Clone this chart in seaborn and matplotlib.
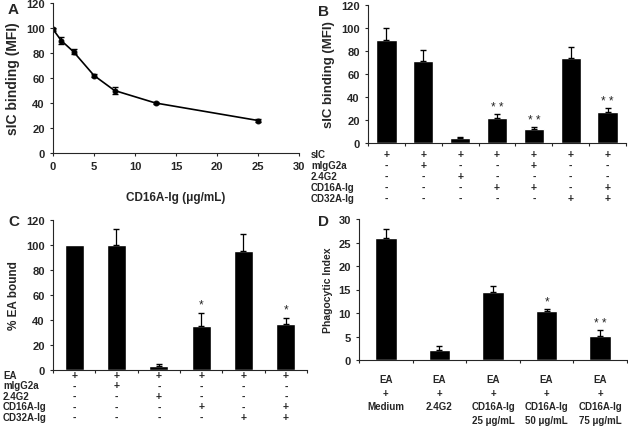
import numpy as np
import pandas as pd
import matplotlib
matplotlib.use("Agg")
import matplotlib.pyplot as plt
import matplotlib.transforms as mtransforms
import seaborn as sns

# Panel A: dose response
dose = [0, 1, 2.5, 5, 7.5, 12.5, 25]
a_mfi = [99, 90, 81, 62, 50, 40, 26]
a_err = [1, 2.5, 2, 1, 2.5, 1, 1]

# Panel B: sIC binding
b_mfi = [90, 71, 4, 22, 12.5, 74, 27]
b_err = [10, 10, 1, 3.5, 1, 9.5, 3.5]
b_stars = ["", "", "", "* *", "* *", "", "* *"]
b_rows = ["sIC", "mIgG2a", "2.4G2", "CD16A-Ig", "CD32A-Ig"]
b_table = [
    "+++++++",
    "-+--+--",
    "--+----",
    "---++-+",
    "-----++",
]

# Panel C: % EA bound
c_pct = [100, 100, 3, 35, 95, 37]
c_err = [0, 13, 1.5, 11, 14, 5]
c_stars = ["", "", "", "*", "", "*"]
c_rows = ["EA", "mIgG2a", "2.4G2", "CD16A-Ig", "CD32A-Ig"]
c_table = [
    "++++++",
    "-+----",
    "--+---",
    "---+-+",
    "----++",
]

# Panel D: phagocytic index
d_labels = ["EA\n+\nMedium", "EA\n+\n2.4G2", "EA\n+\nCD16A-Ig\n25 \u03bcg/mL",
            "EA\n+\nCD16A-Ig\n50 \u03bcg/mL", "EA\n+\nCD16A-Ig\n75 \u03bcg/mL"]
d_idx = [26, 2.2, 14.5, 10.4, 5.2]
d_err = [1.8, 0.8, 1.2, 0.4, 1.2]
d_stars = ["", "", "", "*", "* *"]

sns.set_style("ticks")
plt.rcParams['font.family'] = ['Liberation Sans', 'DejaVu Sans']
plt.rcParams['font.weight'] = 'bold'
plt.rcParams['axes.labelweight'] = 'bold'
plt.rcParams['axes.linewidth'] = 0.8
plt.rcParams['xtick.major.size'] = 2.5
plt.rcParams['ytick.major.size'] = 2.5
plt.rcParams['xtick.major.width'] = 0.8
plt.rcParams['ytick.major.width'] = 0.8

W, H = 628, 427
fig = plt.figure(figsize=(W / 100, H / 100), dpi=100)


def box(l, r, t, b):
    return [l / W, 1 - b / H, (r - l) / W, (b - t) / H]


axA = fig.add_axes(box(53, 299, 4, 154))
axB = fig.add_axes(box(368, 626, 6, 144))
axC = fig.add_axes(box(53, 307, 221, 371))
axD = fig.add_axes(box(359, 627, 220, 361))

tick_fs = 8
tab_fs = 7

# ---- A
dfA = pd.DataFrame({"dose": dose, "mfi": a_mfi})
sns.lineplot(data=dfA, x="dose", y="mfi", ax=axA, color="black", lw=1.2,
             marker="o", markersize=3.5, markeredgecolor="black")
axA.errorbar(dose, a_mfi, yerr=a_err, fmt="none", ecolor="black", capsize=2, lw=0.9)
axA.set_xlim(0, 30)
axA.set_ylim(0, 120)
axA.set_xticks(range(0, 31, 5))
axA.set_yticks(range(0, 121, 20))
axA.set_xlabel("CD16A-Ig (\u03bcg/mL)", fontsize=8.5, labelpad=14)
axA.set_ylabel("sIC binding (MFI)", fontsize=10)
axA.tick_params(labelsize=tick_fs)


def barpanel(ax, vals, errs, stars, width, ymax, ystep, ylabel, lab_fs, star_off):
    n = len(vals)
    df = pd.DataFrame({"g": [str(i) for i in range(n)], "v": vals})
    sns.barplot(data=df, x="g", y="v", ax=ax, color="black", width=width,
                saturation=1, errorbar=None)
    for i in range(n):
        if errs[i] > 0:
            ax.errorbar(i, vals[i], yerr=[[0], [errs[i]]], fmt="none",
                        ecolor="black", capsize=2.5, lw=0.9)
    for i, s in enumerate(stars):
        if s:
            ax.text(i, vals[i] + errs[i] + star_off, s, ha="center", va="bottom",
                    fontsize=8.5, fontweight="normal")
    ax.set_xlim(-0.5, n - 0.5)
    ax.set_ylim(0, ymax)
    ax.set_yticks(np.arange(0, ymax + 0.1, ystep))
    ax.set_xticks(np.arange(-0.5, n - 0.4, 1))
    ax.set_xticklabels([])
    ax.set_xlabel("")
    ax.set_ylabel(ylabel, fontsize=lab_fs)
    ax.tick_params(labelsize=tick_fs)


def table(ax, rows, grid, label_x, row_y):
    trans = mtransforms.blended_transform_factory(ax.transData, fig.transFigure)
    for r, (name, signs) in enumerate(zip(rows, grid)):
        y = 1 - row_y[r] / H
        fig.text(label_x / W, y, name, ha="left", va="center", fontsize=tab_fs)
        for i, s in enumerate(signs):
            ax.text(i, y, s, transform=trans, ha="center", va="center",
                    fontsize=tab_fs + 0.5, clip_on=False)


# ---- B
barpanel(axB, b_mfi, b_err, b_stars, 0.55, 120, 20, "sIC binding (MFI)", 9.5, 1)
table(axB, b_rows, b_table, 311, [155, 166, 177, 188, 199])

# ---- C
barpanel(axC, c_pct, c_err, c_stars, 0.45, 120, 20, "% EA bound", 8.5, 1.5)
table(axC, c_rows, c_table, 3, [376, 386.5, 397, 407.5, 418])

# ---- D
barpanel(axD, d_idx, d_err, d_stars, 0.4, 30, 5, "Phagocytic Index", 7.5, 0.3)
for i, lab in enumerate(d_labels):
    axD.text(i, -0.1, lab, transform=mtransforms.blended_transform_factory(
        axD.transData, axD.transAxes), ha="center", va="top", fontsize=7,
        linespacing=1.45)

for ax in (axA, axB, axC, axD):
    sns.despine(ax=ax)

for letter, (x, y) in zip("ABCD", [(8, 10), (318, 12), (8, 222), (318, 222)]):
    fig.text(x / W, 1 - y / H, letter, fontsize=11, fontweight="bold",
             ha="left", va="center")

fig.savefig("out.png", dpi=100)
